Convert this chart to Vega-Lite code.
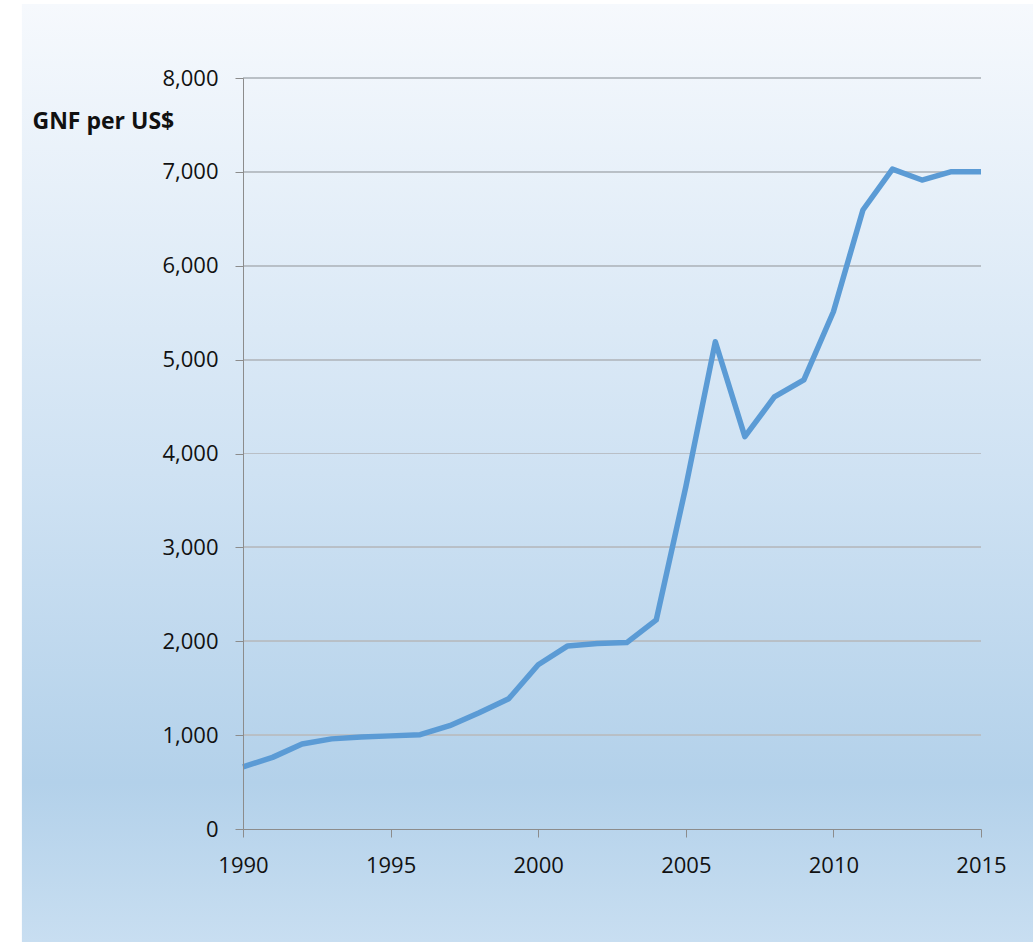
{
  "$schema": "https://vega.github.io/schema/vega-lite/v6.json",
  "width": 738,
  "height": 751,
  "autosize": "none",
  "padding": {"left": 243, "top": 78, "right": 52, "bottom": 113},
  "background": "white",
  "config": {"view": {"stroke": null}, "font": "Open Sans"},
  "data": {
    "values": [
      {"year": 1990, "rate": 662},
      {"year": 1991, "rate": 763},
      {"year": 1992, "rate": 905},
      {"year": 1993, "rate": 960},
      {"year": 1994, "rate": 980},
      {"year": 1995, "rate": 992},
      {"year": 1996, "rate": 1005},
      {"year": 1997, "rate": 1100},
      {"year": 1998, "rate": 1238},
      {"year": 1999, "rate": 1387},
      {"year": 2000, "rate": 1750},
      {"year": 2001, "rate": 1950},
      {"year": 2002, "rate": 1976},
      {"year": 2003, "rate": 1986},
      {"year": 2004, "rate": 2228},
      {"year": 2005, "rate": 3644},
      {"year": 2006, "rate": 5190},
      {"year": 2007, "rate": 4180},
      {"year": 2008, "rate": 4603},
      {"year": 2009, "rate": 4785},
      {"year": 2010, "rate": 5510},
      {"year": 2011, "rate": 6594},
      {"year": 2012, "rate": 7030},
      {"year": 2013, "rate": 6913},
      {"year": 2014, "rate": 7002},
      {"year": 2015, "rate": 7002}
    ]
  },
  "layer": [
    {
      "data": {"values": [{}]},
      "mark": {
        "type": "rect",
        "clip": false,
        "fill": {
          "gradient": "linear",
          "x1": 0, "y1": 0, "x2": 0, "y2": 1,
          "stops": [
            {"offset": 0, "color": "#f6f9fd"},
            {"offset": 0.5, "color": "#cfe2f3"},
            {"offset": 0.83, "color": "#b3d1ea"},
            {"offset": 1, "color": "#c8def1"}
          ]
        }
      },
      "encoding": {
        "x": {"datum": 1982.51, "type": "quantitative", "scale": {"domain": [1990, 2015], "nice": false, "zero": false},
          "axis": {"title": null, "values": [1990, 1995, 2000, 2005, 2010, 2015], "format": "d", "grid": false, "zindex": 1,
            "labelFlush": false, "domainColor": "#8c8c8c", "tickColor": "#8c8c8c", "tickSize": 8, "labelPadding": 18, "labelFontSize": 22,
            "labelColor": "#111111", "labelFont": "Open Sans"}},
        "x2": {"datum": 2018},
        "y": {"datum": 8788, "type": "quantitative", "scale": {"domain": [0, 8000], "nice": false},
          "axis": {"title": "GNF per US$", "titleAngle": 0, "titleAlign": "left", "titleBaseline": "middle", "titleX": -211, "titleY": 43,
            "titleFontSize": 23, "titleFontWeight": "bold", "titleFont": "Open Sans", "titleColor": "#111111",
            "values": [0, 1000, 2000, 3000, 4000, 5000, 6000, 7000, 8000], "format": ",d", "grid": false,
            "zindex": 1, "domainColor": "#8c8c8c", "tickColor": "#8c8c8c", "tickSize": 8, "labelPadding": 17,
            "labelFontSize": 22, "labelColor": "#111111", "labelFont": "Open Sans"}},
        "y2": {"datum": -1204}
      }
    },
    {"mark": {"type": "rule", "color": "#b9bfc6", "strokeWidth": 1.2}, "encoding": {"y": {"datum": 1000, "type": "quantitative"}}},
    {"mark": {"type": "rule", "color": "#b9bfc6", "strokeWidth": 1.2}, "encoding": {"y": {"datum": 2000, "type": "quantitative"}}},
    {"mark": {"type": "rule", "color": "#b9bfc6", "strokeWidth": 1.2}, "encoding": {"y": {"datum": 3000, "type": "quantitative"}}},
    {"mark": {"type": "rule", "color": "#b9bfc6", "strokeWidth": 1.2}, "encoding": {"y": {"datum": 4000, "type": "quantitative"}}},
    {"mark": {"type": "rule", "color": "#b9bfc6", "strokeWidth": 1.2}, "encoding": {"y": {"datum": 5000, "type": "quantitative"}}},
    {"mark": {"type": "rule", "color": "#b9bfc6", "strokeWidth": 1.2}, "encoding": {"y": {"datum": 6000, "type": "quantitative"}}},
    {"mark": {"type": "rule", "color": "#b9bfc6", "strokeWidth": 1.2}, "encoding": {"y": {"datum": 7000, "type": "quantitative"}}},
    {"mark": {"type": "rule", "color": "#b9bfc6", "strokeWidth": 1.2}, "encoding": {"y": {"datum": 8000, "type": "quantitative"}}},
    {
      "mark": {"type": "line", "color": "#5b9bd5", "strokeWidth": 5.5, "strokeJoin": "round"},
      "encoding": {
        "x": {"field": "year", "type": "quantitative",
          "axis": {"title": null, "values": [1990, 1995, 2000, 2005, 2010, 2015], "format": "d", "grid": false, "zindex": 1,
            "labelFlush": false, "domainColor": "#8c8c8c", "tickColor": "#8c8c8c", "tickSize": 8, "labelPadding": 18, "labelFontSize": 22,
            "labelColor": "#111111", "labelFont": "Open Sans"}},
        "y": {"field": "rate", "type": "quantitative",
          "axis": {"title": "GNF per US$", "titleAngle": 0, "titleAlign": "left", "titleBaseline": "middle", "titleX": -211, "titleY": 43,
            "titleFontSize": 23, "titleFontWeight": "bold", "titleFont": "Open Sans", "titleColor": "#111111",
            "values": [0, 1000, 2000, 3000, 4000, 5000, 6000, 7000, 8000], "format": ",d", "grid": false,
            "zindex": 1, "domainColor": "#8c8c8c", "tickColor": "#8c8c8c", "tickSize": 8, "labelPadding": 17,
            "labelFontSize": 22, "labelColor": "#111111", "labelFont": "Open Sans"}}
      }
    }
  ]
}
